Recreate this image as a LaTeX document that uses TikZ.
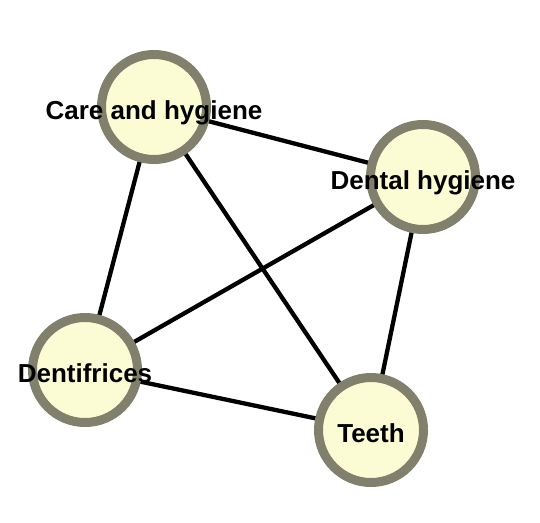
\documentclass[tikz,border=0pt]{standalone}
\usepackage{fontspec}
\setmainfont{Liberation Sans}
\usepackage{tikz}
\usetikzlibrary{backgrounds}
\definecolor{nodefill}{RGB}{252,252,212}
\definecolor{nodering}{RGB}{128,128,108}

\begin{document}
\begin{tikzpicture}[
    x=1pt, y=-1pt,
    topic/.style={circle, draw=nodering, fill=nodefill, line width=9pt,
                  minimum size=105pt, inner sep=0pt},
    lbl/.style={font=\fontsize{26}{31}\selectfont\bfseries, text=black,
                inner sep=0pt, text height=19pt, text depth=5pt, yshift=-5pt},
    link/.style={black, line width=4.3pt}
]

\useasboundingbox (0,0) rectangle (540,522);

% ---------- topics ----------
\node[topic, label={[lbl]center:Care and hygiene}] (care)   at (154,107) {};
\node[topic, label={[lbl]center:Dental hygiene}]   (dental) at (423,177) {};
\node[topic, label={[lbl]center:Dentifrices}]      (dentif) at (85,370)  {};
\node[topic, label={[lbl]center:Teeth}]            (teeth)  at (371,430) {};

% ---------- links, behind the topics ----------
\begin{scope}[on background layer]
\draw[link] (care.center)   -- (dental.center);
\draw[link] (care.center)   -- (dentif.center);
\draw[link] (care.center)   -- (teeth.center);
\draw[link] (dental.center) -- (dentif.center);
\draw[link] (dental.center) -- (teeth.center);
\draw[link] (dentif.center) -- (teeth.center);
\end{scope}

\end{tikzpicture}
\end{document}
